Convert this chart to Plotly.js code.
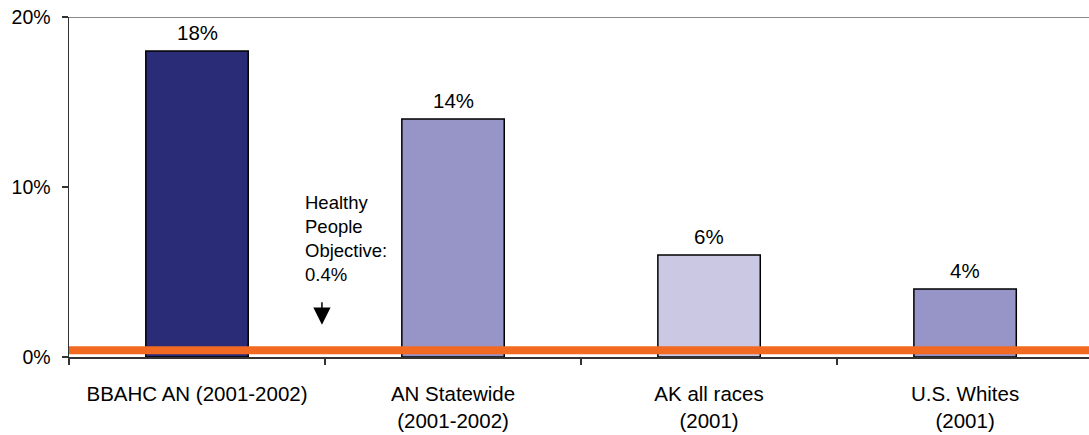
<!DOCTYPE html>
<html>
<head>
<meta charset="utf-8">
<script src="https://cdn.plot.ly/plotly-3.0.1.min.js"></script>
<style>
  html, body { margin: 0; padding: 0; background: #ffffff; }
  #chart { width: 1089px; height: 435px; }
</style>
</head>
<body>
<div id="chart"></div>
<script>
// Groups compared, with their period
const categories = [
  "BBAHC AN (2001-2002)",
  "AN Statewide<br>(2001-2002)",
  "AK all races<br>(2001)",
  "U.S. Whites<br>(2001)"
];
// Percentage for each group
const rates = [18, 14, 6, 4];
// Fill per bar
const barColors = ["#2b2c77", "#9795c8", "#cbc8e4", "#9795c8"];
// Healthy People target
const objective = 0.4;
const objectiveText = "Healthy<br>People<br>Objective:<br>0.4%";
// Y axis ticks
const yTickVals = [0, 10, 20];
const yTickText = ["0%", "10%", "20%"];

const FONT = "Liberation Sans, Arial, Helvetica, sans-serif";

const bars = {
  type: "bar",
  x: categories,
  y: rates,
  marker: { color: barColors, line: { color: "#000000", width: 1.5 } },
  hoverinfo: "skip"
};

// Value labels above the bars
const valueLabels = categories.map((c, i) => ({
  x: c, y: rates[i], xref: "x", yref: "y",
  text: rates[i] + "%",
  showarrow: false, yanchor: "bottom", yshift: 5,
  font: { family: FONT, size: 20.5, color: "#000000" }
}));

const layout = {
  width: 1089,
  height: 435,
  margin: { l: 69, r: 0, t: 17, b: 78, pad: 0 },
  paper_bgcolor: "#ffffff",
  plot_bgcolor: "#ffffff",
  showlegend: false,
  bargap: 0.6,
  font: { family: FONT, color: "#000000" },
  xaxis: {
    type: "category",
    range: [-0.5, 3.484],
    showline: true, linecolor: "#333333", linewidth: 1.5,
    ticks: "outside", tickson: "boundaries", ticklen: 6,
    tickcolor: "#333333", tickwidth: 1.5,
    showgrid: false, zeroline: false,
    tickfont: { family: FONT, size: 20.5, color: "#000000" },
    ticklabelstandoff: 18,
    fixedrange: true
  },
  yaxis: {
    range: [0, 20],
    tickvals: yTickVals, ticktext: yTickText,
    showline: true, linecolor: "#333333", linewidth: 1.5,
    ticks: "outside", ticklen: 6, tickcolor: "#333333", tickwidth: 1.5,
    showgrid: false, zeroline: false,
    tickfont: { family: FONT, size: 19.5, color: "#000000" },
    ticklabelstandoff: 7,
    fixedrange: true
  },
  shapes: [
    // top border of the plot area
    { type: "line", xref: "paper", yref: "y", x0: 0, x1: 1, y0: 20, y1: 20,
      line: { color: "#8a8a8a", width: 2 } },
    // objective line
    { type: "line", xref: "paper", yref: "y", x0: 0, x1: 1, y0: objective, y1: objective,
      line: { color: "#f26a22", width: 8 }, layer: "above" }
  ],
  annotations: valueLabels.concat([
    { x: 0.414, y: 9.8, xref: "x", yref: "y", text: objectiveText,
      showarrow: false, xanchor: "left", yanchor: "top", align: "left",
      font: { family: FONT, size: 18.5, color: "#000000" } },
    { x: 0.488, y: 1.9, xref: "x", yref: "y", text: "",
      showarrow: true, ax: 0, ay: -24, arrowhead: 2, arrowsize: 2.3,
      arrowwidth: 1.5, arrowcolor: "#000000" }
  ])
};

Plotly.newPlot("chart", [bars], layout, { displayModeBar: false, staticPlot: true });
</script>
</body>
</html>
